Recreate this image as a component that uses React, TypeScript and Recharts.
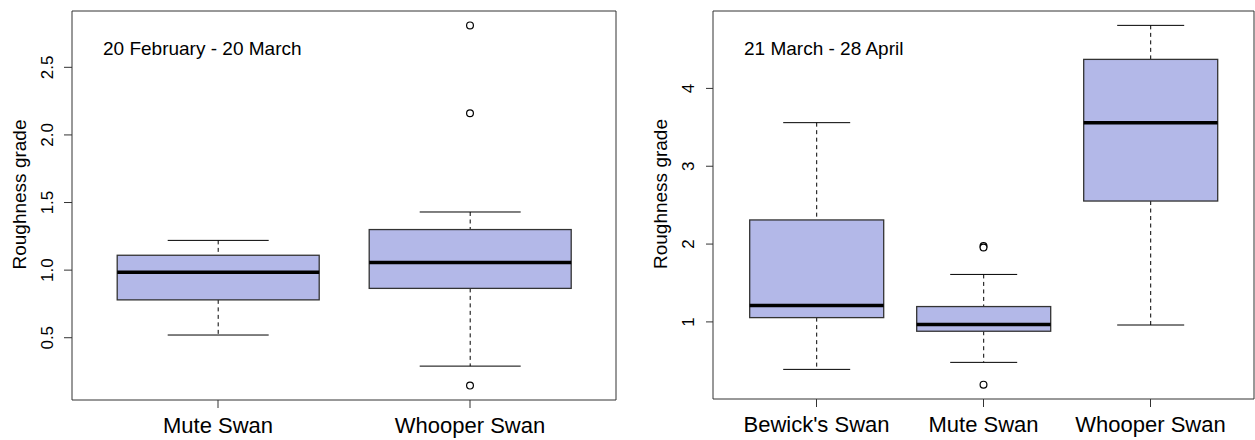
import React from 'react';
import { ComposedChart, Bar, Line, XAxis, YAxis } from 'recharts';

// ---------- Left panel: 20 February - 20 March ----------
const leftTitle = '20 February - 20 March';
const leftCategories = ['Mute Swan', 'Whooper Swan'];
const leftLower = [0.52, 0.29];
const leftQ1 = [0.78, 0.865];
const leftMedian = [0.985, 1.057];
const leftQ3 = [1.11, 1.3];
const leftUpper = [1.22, 1.43];
const leftOutliers: number[][] = [[], [2.81, 2.16, 0.146]];
const leftTicks = [0.5, 1.0, 1.5, 2.0, 2.5];

// ---------- Right panel: 21 March - 28 April ----------
const rightTitle = '21 March - 28 April';
const rightCategories = ["Bewick's Swan", 'Mute Swan', 'Whooper Swan'];
const rightLower = [0.39, 0.48, 0.96];
const rightQ1 = [1.055, 0.88, 2.553];
const rightMedian = [1.21, 0.966, 3.56];
const rightQ3 = [2.31, 1.197, 4.373];
const rightUpper = [3.56, 1.61, 4.81];
const rightOutliers: number[][] = [[], [1.975, 1.955, 0.194], []];
const rightTicks = [1, 2, 3, 4];

const yTitle = 'Roughness grade';

const FONT = '"Liberation Sans", Arial, Helvetica, sans-serif';
const FILL = '#b3b8e8';
const MAX_OUT = 3;

function buildRows(cats: string[], lo: number[], q1: number[], med: number[], q3: number[], hi: number[], outs: number[][]) {
  return cats.map((cat, i) => {
    const row: any = { cat, lo: lo[i], q1: q1[i], med: med[i], q3: q3[i], hi: hi[i] };
    for (let k = 0; k < MAX_OUT; k++) row['out' + k] = outs[i][k] ?? null;
    return row;
  });
}

function rDomain(lo: number[], hi: number[], outs: number[][]): [number, number] {
  const all = [...lo, ...hi, ...outs.flat()];
  const mn = Math.min(...all);
  const mx = Math.max(...all);
  const ext = (mx - mn) * 0.04;
  return [mn - ext, mx + ext];
}

const BoxShape = (props: any) => {
  const { x, y, width, height } = props;
  const p = props.payload ?? props;
  if (p == null || p.hi == null) return null;
  const { lo, q1, med, q3, hi } = p;
  const px = (v: number) => y + (height * (hi - v)) / (hi - lo);
  const cx = x + width / 2;
  const cap = width / 4;
  return (
    <g>
      <line x1={cx} x2={cx} y1={px(hi)} y2={px(q3)} stroke="#000" strokeWidth={1} strokeDasharray="4 3.5" />
      <line x1={cx} x2={cx} y1={px(q1)} y2={px(lo)} stroke="#000" strokeWidth={1} strokeDasharray="4 3.5" />
      <line x1={cx - cap} x2={cx + cap} y1={px(hi)} y2={px(hi)} stroke="#000" strokeWidth={1} />
      <line x1={cx - cap} x2={cx + cap} y1={px(lo)} y2={px(lo)} stroke="#000" strokeWidth={1} />
      <rect x={x} y={px(q3)} width={width} height={px(q1) - px(q3)} fill={FILL} stroke="#333" strokeWidth={1.3} />
      <line x1={x} x2={x + width} y1={px(med)} y2={px(med)} stroke="#000" strokeWidth={3.5} />
    </g>
  );
};

type PanelProps = {
  title: string;
  rows: any[];
  domain: [number, number];
  ticks: number[];
  fmt: (v: number) => string;
  width: number;
  yAxisWidth: number;
  rightWidth: number;
  xAxisHeight: number;
  tickSize: number;
};

const Panel = ({ title, rows, domain, ticks, fmt, width, yAxisWidth, rightWidth, xAxisHeight, tickSize }: PanelProps) => (
  <ComposedChart
    width={width}
    height={440}
    data={rows}
    margin={{ top: 0, right: 0, bottom: 0, left: 0 }}
    barCategoryGap="10%"
  >
    <XAxis
      dataKey="cat"
      type="category"
      interval={0}
      padding={{ left: 20, right: 20 }}
      height={xAxisHeight}
      tickSize={8}
      tickMargin={9}
      axisLine={{ stroke: '#333', strokeWidth: 1 }}
      tickLine={{ stroke: '#333' }}
      tick={{ fontSize: 22, fill: '#000', fontFamily: FONT }}
    />
    <XAxis
      xAxisId="top"
      dataKey="cat"
      type="category"
      orientation="top"
      height={11}
      tick={false}
      tickLine={false}
      axisLine={{ stroke: '#333', strokeWidth: 1 }}
      label={(lp: any) => {
        const vb = lp.viewBox || {};
        return (
          <text x={vb.x + 31} y={vb.y + vb.height + 43.5} fontSize={19} fill="#000" fontFamily={FONT} textAnchor="start">
            {title}
          </text>
        );
      }}
    />
    <YAxis
      type="number"
      domain={domain}
      allowDataOverflow
      ticks={ticks}
      width={yAxisWidth}
      tickSize={tickSize}
      tickMargin={19 - tickSize}
      axisLine={{ stroke: '#333', strokeWidth: 1 }}
      tickLine={{ stroke: '#333' }}
      tick={(tp: any) => (
        <text
          key={tp.index}
          x={tp.x}
          y={tp.y}
          transform={`rotate(-90, ${tp.x}, ${tp.y})`}
          textAnchor="middle"
          fontSize={17}
          fill="#000"
          fontFamily={FONT}
        >
          {fmt(tp.payload.value)}
        </text>
      )}
      label={(lp: any) => {
        const vb = lp.viewBox || {};
        const bx = vb.x + vb.width - 46;
        const cy = vb.y + vb.height / 2 - 11;
        return (
          <text x={bx} y={cy} transform={`rotate(-90, ${bx}, ${cy})`} textAnchor="middle" fontSize={19} fill="#000" fontFamily={FONT}>
            {yTitle}
          </text>
        );
      }}
    />
    <YAxis
      yAxisId="r"
      orientation="right"
      type="number"
      domain={domain}
      allowDataOverflow
      width={rightWidth}
      tick={false}
      tickLine={false}
      axisLine={{ stroke: '#333', strokeWidth: 1 }}
    />
    <Bar dataKey={(d: any) => [d.lo, d.hi]} shape={BoxShape} isAnimationActive={false} />
    {Array.from({ length: MAX_OUT }, (_, k) => (
      <Line
        key={k}
        dataKey={'out' + k}
        stroke="none"
        dot={{ r: 3.4, fill: '#fff', stroke: '#000', strokeWidth: 1.2 }}
        activeDot={false}
        isAnimationActive={false}
        connectNulls={false}
      />
    ))}
  </ComposedChart>
);

export default function App() {
  const leftRows = buildRows(leftCategories, leftLower, leftQ1, leftMedian, leftQ3, leftUpper, leftOutliers);
  const rightRows = buildRows(rightCategories, rightLower, rightQ1, rightMedian, rightQ3, rightUpper, rightOutliers);
  return (
    <div style={{ position: 'absolute', left: 0, top: 0, width: 1255, height: 440, background: '#fff', fontFamily: FONT }}>
      <div style={{ position: 'absolute', left: 0, top: 0 }}>
        <Panel
          title={leftTitle}
          rows={leftRows}
          domain={rDomain(leftLower, leftUpper, leftOutliers)}
          ticks={leftTicks}
          fmt={(v) => v.toFixed(1)}
          width={630}
          yAxisWidth={72}
          rightWidth={14}
          xAxisHeight={40}
          tickSize={8}
        />
      </div>
      <div style={{ position: 'absolute', left: 630, top: 0 }}>
        <Panel
          title={rightTitle}
          rows={rightRows}
          domain={rDomain(rightLower, rightUpper, rightOutliers)}
          ticks={rightTicks}
          fmt={(v) => String(v)}
          width={625}
          yAxisWidth={83}
          rightWidth={1}
          xAxisHeight={41}
          tickSize={7}
        />
      </div>
    </div>
  );
}
